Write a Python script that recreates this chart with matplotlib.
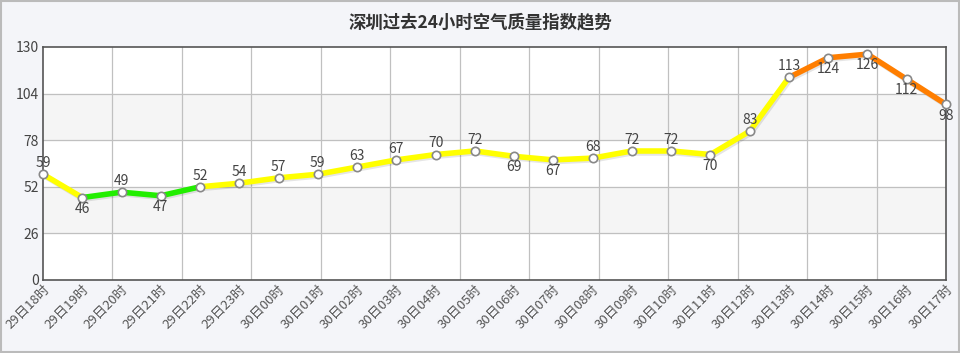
import matplotlib.pyplot as plt
import matplotlib.patheffects as pe
from matplotlib.patches import Rectangle

plt.rcParams['font.family'] = ['Noto Sans CJK SC', 'DejaVu Sans']

# hourly AQI, Shenzhen
hours = ['29日18时', '29日19时', '29日20时', '29日21时', '29日22时', '29日23时',
         '30日00时', '30日01时', '30日02时', '30日03时', '30日04时', '30日05时',
         '30日06时', '30日07时', '30日08时', '30日09时', '30日10时', '30日11时',
         '30日12时', '30日13时', '30日14时', '30日15时', '30日16时', '30日17时']
aqi = [59, 46, 49, 47, 52, 54, 57, 59, 63, 67, 70, 72,
       69, 67, 68, 72, 72, 70, 83, 113, 124, 126, 112, 98]
label_side = ['up', 'down', 'up', 'down', 'up', 'up', 'up', 'up', 'up', 'up', 'up', 'up',
              'down', 'down', 'up', 'up', 'up', 'down', 'up', 'up', 'down', 'down', 'down', 'down']
yticks = [0, 26, 52, 78, 104, 130]


def level_color(v):
    if v <= 50:
        return '#22ee00'
    if v <= 100:
        return '#ffff00'
    return '#ff7e00'


fig = plt.figure(figsize=(9.6, 3.53), dpi=100, facecolor='#f4f5f9')
fig.patches.append(Rectangle((0.001, 0.003), 0.998, 0.994, transform=fig.transFigure,
                             fill=False, edgecolor='#bbbbbb', linewidth=1.5))
ax = fig.add_axes([0.0448, 0.2068, 0.9406, 0.6601])
ax.set_xlim(0, len(aqi) - 1)
ax.set_ylim(0, 130)

# alternating bands
for i in range(len(yticks) - 1):
    if i % 2 == 1:
        ax.axhspan(yticks[i], yticks[i + 1], color='#f5f5f5', zorder=0)
for y in yticks[1:-1]:
    ax.axhline(y, color='#c0c0c0', lw=0.9, zorder=1)
n_v = 13
for i in range(1, n_v):
    ax.axvline(i * (len(aqi) - 1) / n_v, color='#c0c0c0', lw=0.9, zorder=1)

x = list(range(len(aqi)))
shadow = [pe.SimpleLineShadow(offset=(1, -1.2), shadow_color='#000000', alpha=0.1), pe.Normal()]
for i in range(len(aqi) - 1):
    ax.plot(x[i:i + 2], aqi[i:i + 2], color=level_color(aqi[i]), lw=4,
            solid_capstyle='round', zorder=3, path_effects=shadow)
ax.plot(x, aqi, linestyle='none', marker='o', markersize=6, markerfacecolor='white',
        markeredgecolor='#888888', markeredgewidth=1.2, zorder=4, clip_on=False)

for xi, v, side in zip(x, aqi, label_side):
    if side == 'up':
        ax.annotate(str(v), (xi, v), xytext=(0, 3), textcoords='offset points',
                    ha='center', va='bottom', fontsize=10, color='#444444', zorder=5)
    else:
        ax.annotate(str(v), (xi, v), xytext=(0, -3), textcoords='offset points',
                    ha='center', va='top', fontsize=10, color='#444444', zorder=5)

ax.set_yticks(yticks)
ax.set_yticklabels([str(t) for t in yticks], fontsize=10, color='#444444')
ax.set_xticks(x)
ax.set_xticklabels(hours, rotation=45, ha='right', va='top', rotation_mode='anchor',
                   fontsize=9.5, color='#555555')
ax.tick_params(axis='both', length=0, pad=3)
ax.tick_params(axis='x', pad=2)
for s in ax.spines.values():
    s.set_color('#555555')
    s.set_linewidth(1.2)
ax.set_facecolor('white')

fig.text(0.5, 0.935, '深圳过去24小时空气质量指数趋势', ha='center', va='center',
         fontsize=12.5, fontweight='bold', color='#333333')

fig.savefig('out.png', dpi=100, facecolor=fig.get_facecolor())
